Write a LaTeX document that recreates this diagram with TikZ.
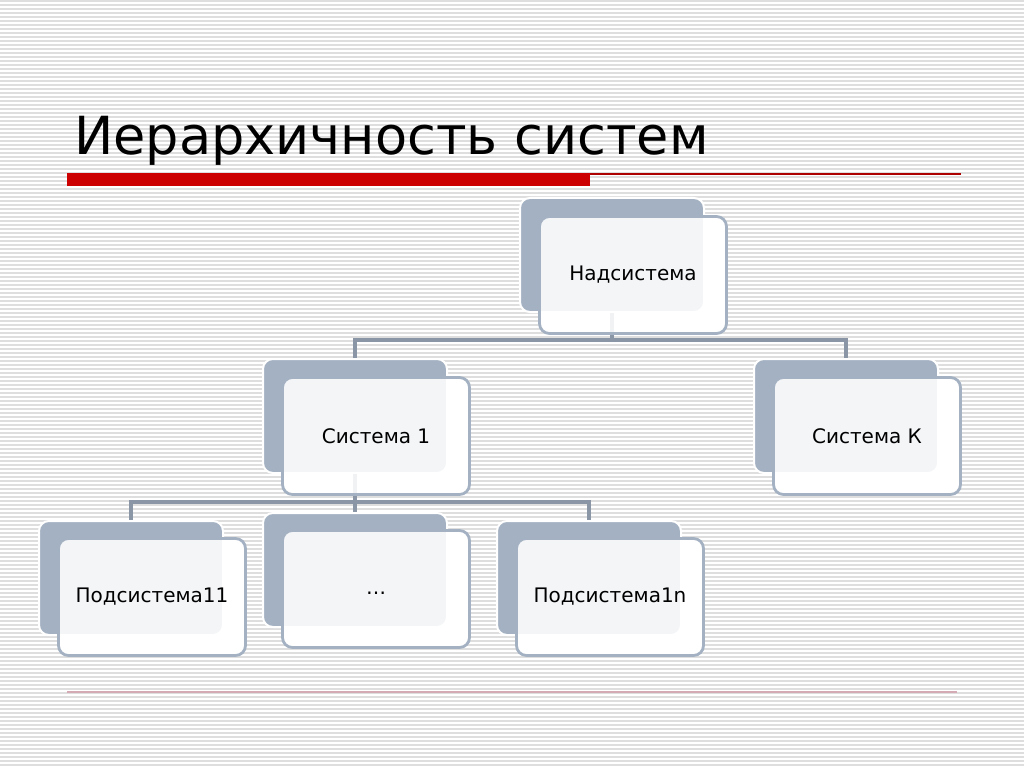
\documentclass[tikz,border=0pt]{standalone}
\usepackage{fontspec}
\setmainfont{DejaVu Sans}
\usepackage{tikz}
\usetikzlibrary{calc}
\definecolor{boxgray}{HTML}{A3B1C2}
\definecolor{linkgray}{HTML}{8A96A6}
\definecolor{stripegray}{HTML}{DEDEDE}
\definecolor{titlered}{HTML}{CC0000}
\definecolor{rulepink}{HTML}{D4AAB4}

\begin{document}
\begin{tikzpicture}[x=1pt, y=-1pt,
		backbox/.style={rectangle, rounded corners=10pt, fill=boxgray, draw=white, line width=2pt, minimum width=184pt, minimum height=114pt},
		frontbase/.style={rectangle, rounded corners=10pt, fill=white, minimum width=187pt, minimum height=117pt},
		frontbox/.style={rectangle, rounded corners=10pt, fill=white, fill opacity=0.88, text opacity=1, draw=boxgray, line width=2.8pt, minimum width=187pt, minimum height=117pt, font=\fontsize{20}{24}\selectfont},
		link/.style={draw=linkgray, line width=4pt}]
			%%%%% START %%%%%
			
			\useasboundingbox (0, 0) rectangle (1024, 767);
			\fill[white] (0, 0) rectangle (1024, 767);
			\foreach \y in {1, 5, ..., 765}
				\draw[stripegray, line width=1.6pt] (0, \y) -- (1024, \y);
			
			\node[anchor=base west, font=\fontsize{52.5}{60}\selectfont, inner sep=0pt] (title) at (74, 155) {Иерархичность систем};
			\fill[titlered] (67, 173) rectangle (590, 186);
			\draw[titlered!85!black, line width=1.5pt] (590, 174) -- (961, 174);
			\draw[rulepink, line width=2pt] (67, 692) -- (957, 692);
			
			% white ground under the front boxes, then the grey back boxes
			\foreach \n/\x/\y/\dy in {nad/612/255/20, sys1/355/416/20, sysK/846/416/20, sub11/131/578/19, dots/355/570/19, sub1n/589/578/19}
				\node[frontbase] (\n-base) at (\x+21, \y+\dy) {};
			\foreach \n/\x/\y in {nad/612/255, sys1/355/416, sysK/846/416, sub11/131/578, dots/355/570, sub1n/589/578}
				\node[backbox] (\n-back) at (\x, \y) {};
			
			\coordinate (bar1) at (0, 340);
			\coordinate (bar2) at (0, 502);
			\draw[link] (nad-back.south) -- (nad-back.south |- bar1);
			\draw[link] (sys1-back.north) |- (bar1 -| sysK-back.north) -- (sysK-back.north);
			\draw[link] (sys1-back.south) -- (sys1-back.south |- bar2);
			\draw[link] (sub11-back.north) |- (bar2 -| sub1n-back.north) -- (sub1n-back.north);
			\draw[link] (dots-back.north) -- (dots-back.north |- bar2);
			
			\node[frontbox] (nad) at (nad-base) {Надсистема};
			\node[frontbox] (sys1) at (sys1-base) {Система 1};
			\node[frontbox] (sysK) at (sysK-base) {Система К};
			\node[frontbox] (sub11) at (sub11-base) {Подсистема11};
			\node[frontbox] (dots) at (dots-base) {\vphantom{Пд}…};
			\node[frontbox] (sub1n) at (sub1n-base) {Подсистема1n};
			
			%%%%% END %%%%%
		\end{tikzpicture}
\end{document}
